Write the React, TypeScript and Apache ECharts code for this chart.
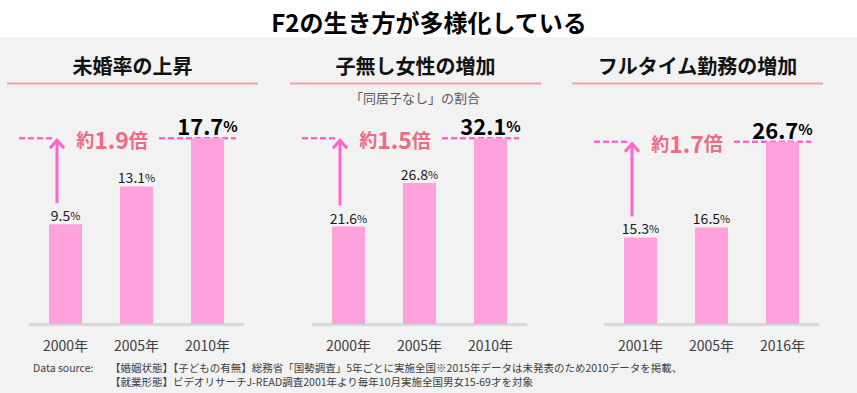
import React, { useEffect, useRef } from "react";
import * as echarts from "echarts";

const mainTitle = "F2の生き方が多様化している";
const panelTitles = ["未婚率の上昇", "子無し女性の増加", "フルタイム勤務の増加"];
const subTitle2 = "「同居子なし」の割合";

const categories1 = ["2000年", "2005年", "2010年"];
const values1 = [9.5, 13.1, 17.7];
const categories2 = ["2000年", "2005年", "2010年"];
const values2 = [21.6, 26.8, 32.1];
const categories3 = ["2001年", "2005年", "2016年"];
const values3 = [15.3, 16.5, 26.7];

const ratioLabels = ["1.9", "1.5", "1.7"];
const yMins = [0, 10, 5];
const yMaxes = [20, 35, 30];

const sourceHead = "Data source:";
const sourceLine1 = "【婚姻状態】【子どもの有無】総務省「国勢調査」5年ごとに実施全国※2015年データは未発表のため2010データを掲載、";
const sourceLine2 = "【就業形態】ビデオリサーチJ-READ調査2001年より毎年10月実施全国男女15-69才を対象";

const FONT = "'Noto Sans CJK JP', 'Noto Sans', sans-serif";
const PINK_BAR = "#ffa2dc";
const PINK_LINE = "#ff66cc";
const RATIO_COLOR = "#ec6b86";

const gridLefts = [30, 313, 605];
const underlines = [
  [7, 258],
  [290, 541],
  [572, 823],
];

export default function App() {
  const ref = useRef<HTMLDivElement>(null);

  useEffect(() => {
    if (!ref.current) return;
    const chart = echarts.init(ref.current, undefined, { renderer: "svg" });
    const cats = [categories1, categories2, categories3];
    const vals = [values1, values2, values3];

    const srcStyle = (text: string) => ({
      text,
      fontFamily: FONT,
      fontSize: 10.5,
      lineHeight: 12,
      fill: "#404040",
      verticalAlign: "middle",
    });

    const baseGraphic: any[] = [
      {
        type: "rect",
        z: -10,
        shape: { x: 0, y: 37, width: 857, height: 356 },
        style: { fill: "#f2f2f2" },
        silent: true,
      },
      {
        type: "text",
        x: 429,
        y: 21,
        style: {
          text: mainTitle,
          fontFamily: FONT,
          fontSize: 24,
          fontWeight: "bold",
          fill: "#000",
          align: "center",
          verticalAlign: "middle",
        },
      },
      {
        type: "text",
        x: 415,
        y: 97,
        style: {
          text: subTitle2,
          fontFamily: FONT,
          fontSize: 13,
          fill: "#595959",
          align: "center",
          verticalAlign: "middle",
        },
      },
      { type: "text", x: 33, y: 367, style: srcStyle(sourceHead) },
      { type: "text", x: 110, y: 367, style: srcStyle(sourceLine1) },
      { type: "text", x: 110, y: 381, style: srcStyle(sourceLine2) },
    ];
    panelTitles.forEach((t, i) => {
      const [a, b] = underlines[i];
      baseGraphic.push({
        type: "text",
        x: (a + b) / 2,
        y: 65,
        style: {
          text: t,
          fontFamily: FONT,
          fontSize: 20,
          fontWeight: "bold",
          fill: "#111",
          align: "center",
          verticalAlign: "middle",
        },
      });
      baseGraphic.push({
        type: "line",
        shape: { x1: a, y1: 83.5, x2: b, y2: 83.5 },
        style: { stroke: "#eda1aa", lineWidth: 2 },
      });
    });

    const option: any = {
      animation: false,
      backgroundColor: "#ffffff",
      textStyle: { fontFamily: FONT },
      grid: gridLefts.map((l) => ({ left: l, width: 213, top: 114, height: 210 })),
      xAxis: cats.map((c, i) => ({
        type: "category",
        gridIndex: i,
        data: c,
        axisLine: { show: true, lineStyle: { color: "#d9d9d9", width: 3 } },
        axisTick: { show: false },
        axisLabel: { color: "#404040", fontSize: 14, margin: 14, fontFamily: FONT },
      })),
      yAxis: cats.map((_, i) => ({
        type: "value",
        gridIndex: i,
        min: yMins[i],
        max: yMaxes[i],
        show: false,
        splitLine: { show: false },
      })),
      series: vals.map((v, i) => ({
        type: "bar",
        xAxisIndex: i,
        yAxisIndex: i,
        data: v,
        barWidth: 33,
        clip: true,
        itemStyle: { color: PINK_BAR },
        label: {
          show: true,
          position: "top",
          distance: 2,
          formatter: (p: any) =>
            p.dataIndex === 2 ? `{B|${p.value}}{P|%}` : `{n|${p.value}}{p|%}`,
          rich: {
            n: { fontSize: 14, color: "#1a1a1a", fontFamily: FONT },
            p: { fontSize: 11, color: "#1a1a1a", fontFamily: FONT },
            B: { fontSize: 22, fontWeight: "bold", color: "#000", fontFamily: FONT },
            P: { fontSize: 15, fontWeight: "bold", color: "#000", fontFamily: FONT },
          },
        },
      })),
      graphic: baseGraphic,
    };
    chart.setOption(option);

    const extra: any[] = [];
    vals.forEach((v, i) => {
      const p0 = chart.convertToPixel({ gridIndex: i } as any, [0, v[0]]) as number[];
      const p2 = chart.convertToPixel({ gridIndex: i } as any, [2, v[2]]) as number[];
      if (!p0 || !p2) return;
      const left = p0[0] - 35.5;
      const yl = p2[1];
      const dash = { stroke: PINK_LINE, lineWidth: 2.5, lineDash: [6, 3] };
      extra.push({ type: "line", shape: { x1: left - 11, y1: yl, x2: left + 24, y2: yl }, style: dash });
      extra.push({ type: "line", shape: { x1: left + 129, y1: yl, x2: left + 206, y2: yl }, style: dash, z: 1 });
      const ax = left + 27;
      extra.push({
        type: "line",
        shape: { x1: ax, y1: p0[1] - 21, x2: ax, y2: yl + 2 },
        style: { stroke: PINK_LINE, lineWidth: 3 },
      });
      extra.push({
        type: "polyline",
        shape: { points: [[ax - 7, yl + 10], [ax, yl + 2], [ax + 7, yl + 10]] },
        style: { stroke: PINK_LINE, lineWidth: 3, fill: "none" },
      });
      extra.push({
        type: "text",
        x: left + 82,
        y: yl + 1,
        style: {
          text: `{a|約}{b|${ratioLabels[i]}}{c|倍}`,
          align: "center",
          verticalAlign: "middle",
          rich: {
            a: { fontSize: 18, fontWeight: "bold", fill: RATIO_COLOR, fontFamily: FONT },
            b: { fontSize: 23, fontWeight: "bold", fill: RATIO_COLOR, fontFamily: FONT },
            c: { fontSize: 19, fontWeight: "bold", fill: RATIO_COLOR, fontFamily: FONT },
          },
        },
      });
    });
    chart.setOption({ graphic: [...baseGraphic, ...extra] });

    return () => chart.dispose();
  }, []);

  return (
    <div
      ref={ref}
      style={{ position: "absolute", left: 0, top: 0, width: 857, height: 393 }}
    />
  );
}
